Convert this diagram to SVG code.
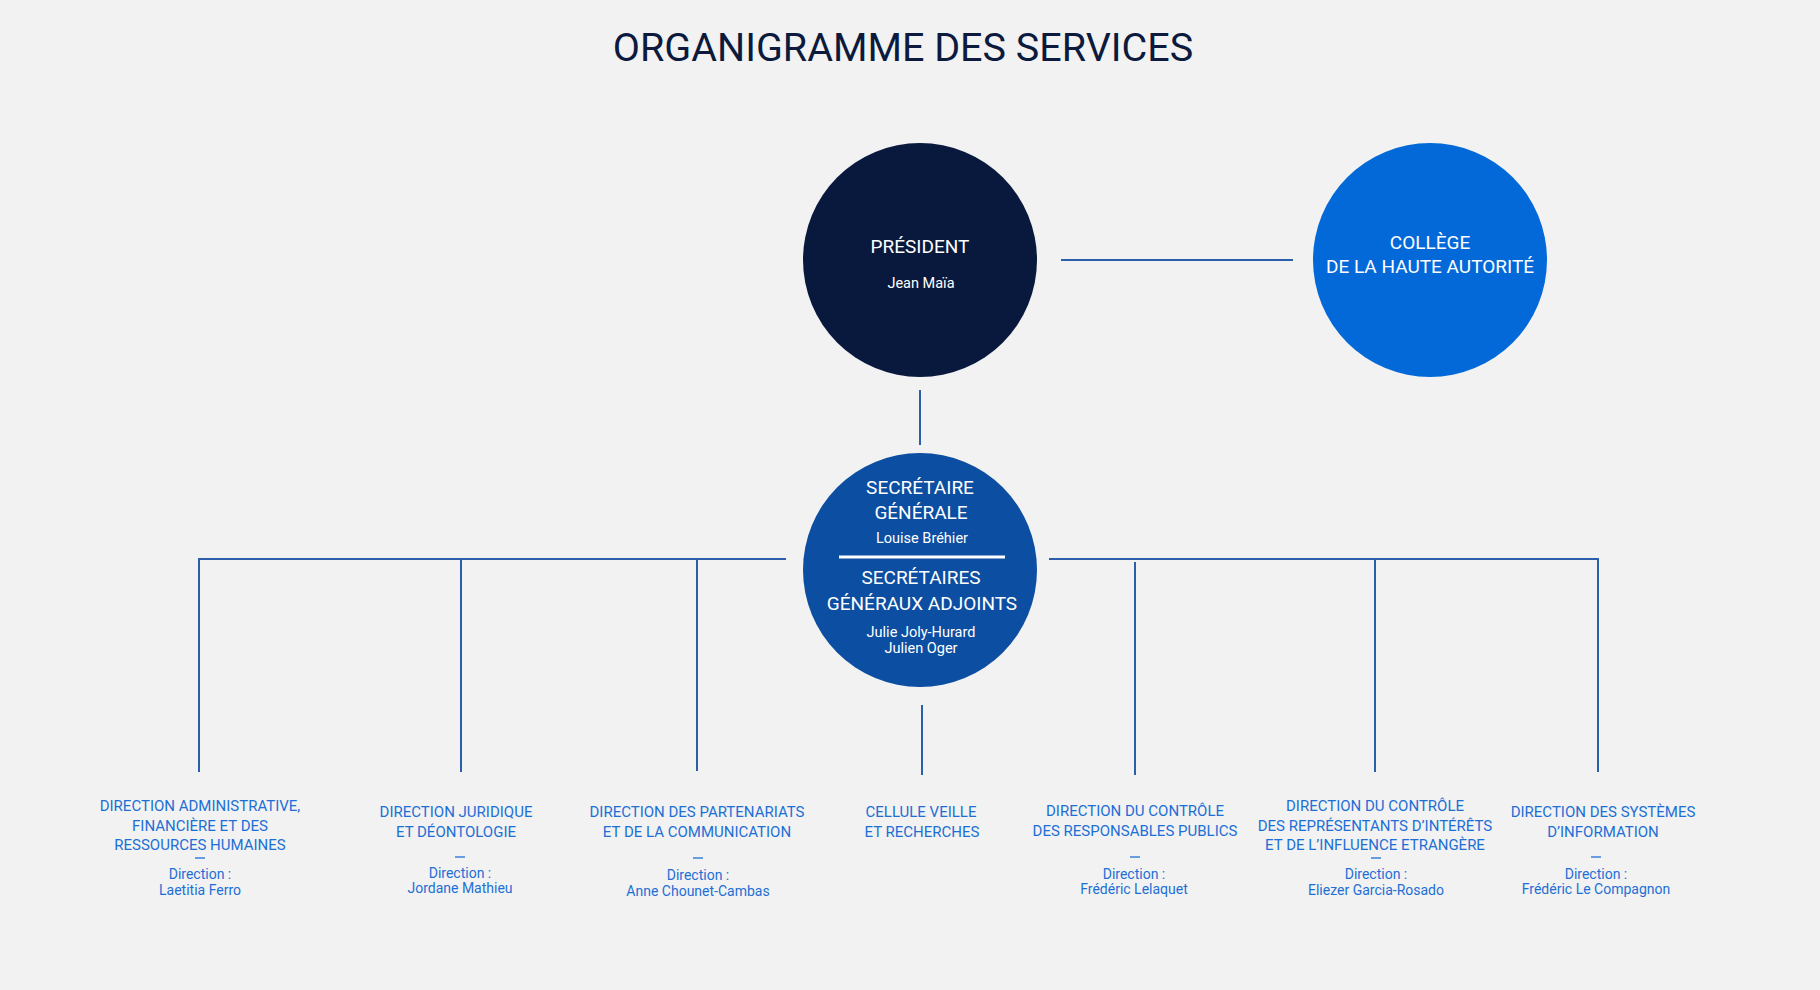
<svg xmlns="http://www.w3.org/2000/svg" width="1820" height="990" viewBox="0 0 1820 990">
<style>
.bg{fill:#f2f2f2}
.title{font-family:Roboto,"Liberation Sans",sans-serif;font-size:39.5px;fill:#0b1a3d;text-anchor:middle}
.ch{font-family:Roboto,"Liberation Sans",sans-serif;font-size:19px;fill:#ffffff;text-anchor:middle}
.cn{font-family:Roboto,"Liberation Sans",sans-serif;font-size:14.5px;fill:#ffffff;text-anchor:middle}
.dh{font-family:Roboto,"Liberation Sans",sans-serif;font-size:15px;fill:#1d6fd6;text-anchor:middle}
.dn{font-family:Roboto,"Liberation Sans",sans-serif;font-size:14px;fill:#1d6fd6;text-anchor:middle}
.dash{stroke:#1d6fd6;stroke-width:1.3}
.conn{stroke:#2b5fa9;stroke-width:2;fill:none}
</style>
<rect class="bg" x="0" y="0" width="1820" height="990"/>
<text class="title" x="903" y="61">ORGANIGRAMME DES SERVICES</text>

<g id="connectors">
  <line class="conn" x1="1061" y1="260" x2="1293" y2="260" stroke-width="1.5"/>
  <line class="conn" x1="920" y1="390" x2="920" y2="445" stroke-width="1.5"/>
  <polyline class="conn" points="199,772 199,559 786,559"/>
  <line class="conn" x1="461" y1="559" x2="461" y2="772" stroke="#6e9bd6"/>
  <line class="conn" x1="697" y1="559" x2="697" y2="771" stroke="#4a80cc" stroke-width="1.5"/>
  <polyline class="conn" points="1049,559 1598,559 1598,772"/>
  <line class="conn" x1="1135" y1="562" x2="1135" y2="775" stroke-width="1.5"/>
  <line class="conn" x1="1375" y1="559" x2="1375" y2="772" stroke-width="1.5"/>
  <line class="conn" x1="922" y1="705" x2="922" y2="775" stroke-width="1.5"/>
</g>

<g id="president">
  <circle cx="920" cy="260" r="117" fill="#08193d"/>
  <text class="ch" x="920" y="253">PRÉSIDENT</text>
  <text class="cn" x="921" y="288">Jean Maïa</text>
</g>

<g id="college">
  <circle cx="1430" cy="260" r="117" fill="#0368d8"/>
  <text class="ch" x="1430" y="249">COLLÈGE</text>
  <text class="ch" x="1430" y="273">DE LA HAUTE AUTORITÉ</text>
</g>

<g id="secretariat">
  <circle cx="920" cy="570" r="117" fill="#0b4ea2"/>
  <text class="ch" x="920" y="494">SECRÉTAIRE</text>
  <text class="ch" x="921" y="519">GÉNÉRALE</text>
  <text class="cn" x="922" y="543">Louise Bréhier</text>
  <line x1="839" y1="557" x2="1005" y2="557" stroke="#ffffff" stroke-width="3"/>
  <text class="ch" x="921" y="584">SECRÉTAIRES</text>
  <text class="ch" x="922" y="610">GÉNÉRAUX ADJOINTS</text>
  <text class="cn" x="921" y="637">Julie Joly-Hurard</text>
  <text class="cn" x="921" y="653">Julien Oger</text>
</g>

<g id="dir-admin">
  <text class="dh" x="200" y="811">DIRECTION ADMINISTRATIVE,</text>
  <text class="dh" x="200" y="831">FINANCIÈRE ET DES</text>
  <text class="dh" x="200" y="850">RESSOURCES HUMAINES</text>
  <line class="dash" x1="195" y1="858" x2="205" y2="858"/>
  <text class="dn" x="200" y="879">Direction :</text>
  <text class="dn" x="200" y="895">Laetitia Ferro</text>
</g>

<g id="dir-juridique">
  <text class="dh" x="456" y="817">DIRECTION JURIDIQUE</text>
  <text class="dh" x="456" y="837">ET DÉONTOLOGIE</text>
  <line class="dash" x1="455" y1="857" x2="465" y2="857"/>
  <text class="dn" x="460" y="878">Direction :</text>
  <text class="dn" x="460" y="893">Jordane Mathieu</text>
</g>

<g id="dir-partenariats">
  <text class="dh" x="697" y="817">DIRECTION DES PARTENARIATS</text>
  <text class="dh" x="697" y="837">ET DE LA COMMUNICATION</text>
  <line class="dash" x1="693" y1="858" x2="703" y2="858"/>
  <text class="dn" x="698" y="880">Direction :</text>
  <text class="dn" x="698" y="896">Anne Chounet-Cambas</text>
</g>

<g id="cellule-veille">
  <text class="dh" x="921" y="817">CELLULE VEILLE</text>
  <text class="dh" x="922" y="837">ET RECHERCHES</text>
</g>

<g id="dir-responsables">
  <text class="dh" x="1135" y="816">DIRECTION DU CONTRÔLE</text>
  <text class="dh" x="1135" y="836">DES RESPONSABLES PUBLICS</text>
  <line class="dash" x1="1130" y1="857" x2="1140" y2="857"/>
  <text class="dn" x="1134" y="879">Direction :</text>
  <text class="dn" x="1134" y="894">Frédéric Lelaquet</text>
</g>

<g id="dir-representants">
  <text class="dh" x="1375" y="811">DIRECTION DU CONTRÔLE</text>
  <text class="dh" x="1375" y="831">DES REPRÉSENTANTS D’INTÉRÊTS</text>
  <text class="dh" x="1375" y="850">ET DE L’INFLUENCE ETRANGÈRE</text>
  <line class="dash" x1="1371" y1="858" x2="1381" y2="858"/>
  <text class="dn" x="1376" y="879">Direction :</text>
  <text class="dn" x="1376" y="895">Eliezer Garcia-Rosado</text>
</g>

<g id="dir-systemes">
  <text class="dh" x="1603" y="817">DIRECTION DES SYSTÈMES</text>
  <text class="dh" x="1603" y="837">D’INFORMATION</text>
  <line class="dash" x1="1591" y1="857" x2="1601" y2="857"/>
  <text class="dn" x="1596" y="879">Direction :</text>
  <text class="dn" x="1596" y="894">Frédéric Le Compagnon</text>
</g>
</svg>
